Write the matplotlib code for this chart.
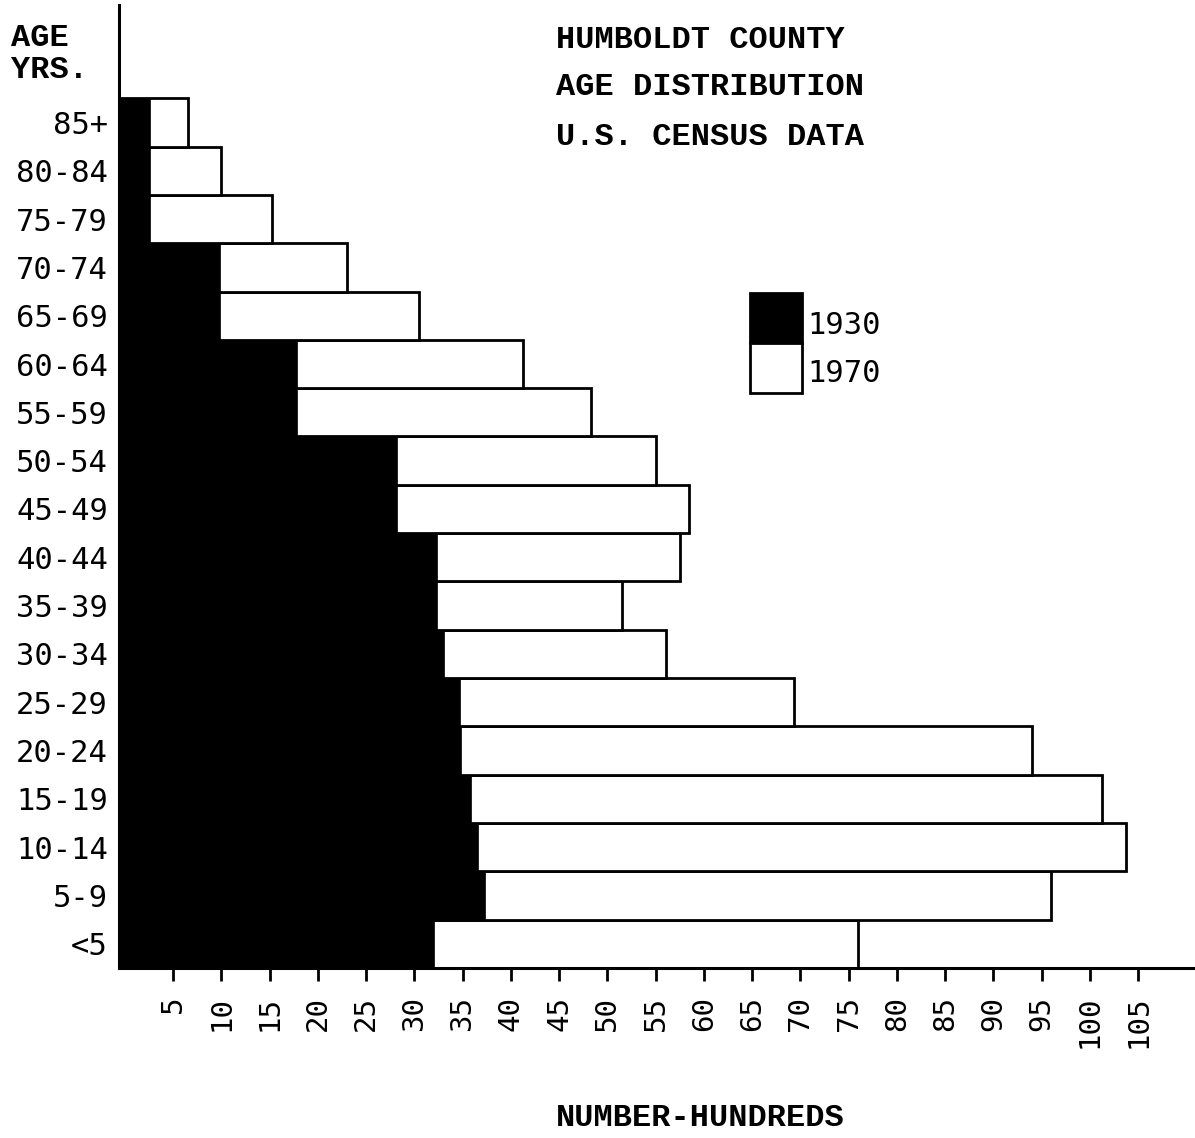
import matplotlib
matplotlib.use("Agg")
import matplotlib.pyplot as plt
from matplotlib.patches import Rectangle

# Humboldt County population by age group, in hundreds of persons
age_groups = ["<5", "5-9", "10-14", "15-19", "20-24", "25-29", "30-34", "35-39",
              "40-44", "45-49", "50-54", "55-59", "60-64", "65-69", "70-74",
              "75-79", "80-84", "85+"]
pop_1930 = [32.0, 37.3, 36.6, 35.9, 34.8, 34.7, 33.1, 32.4,
            32.4, 28.2, 28.2, 17.8, 17.8, 9.9, 9.9,
            2.6, 2.6, 2.6]
pop_1970 = [76.0, 96.0, 103.7, 101.3, 94.0, 69.3, 56.1, 51.5,
            57.5, 58.5, 55.0, 48.3, 41.3, 30.5, 23.0,
            15.3, 10.0, 6.5]
x_ticks = list(range(5, 110, 5))

TYPE_FONT = "Liberation Mono"
LETTER_FONT = "DejaVu Sans Mono"

W, H = 1195, 1138
fig = plt.figure(figsize=(W / 100, H / 100), dpi=100)
ax = fig.add_axes([119 / W, (H - 968) / H, (W - 119) / W, (968 - 5) / H])

XMIN, XMAX = -0.6, 110.9
ypos = list(range(len(age_groups)))

# 1970 bars behind, 1930 bars drawn solid on top
ax.barh(ypos, [v - XMIN for v in pop_1970], left=XMIN, height=1.0,
        color="white", edgecolor="black", linewidth=2.0, zorder=2)
ax.barh(ypos, [v - XMIN for v in pop_1930], left=XMIN, height=1.0,
        color="black", edgecolor="black", linewidth=0.5, zorder=3)

ax.set_xlim(XMIN, XMAX)
ax.set_ylim(-0.5, 19.43)

for s in ("top", "right"):
    ax.spines[s].set_visible(False)
for s in ("left", "bottom"):
    ax.spines[s].set_linewidth(2.2)
    ax.spines[s].set_zorder(4)

ax.set_yticks(ypos)
ax.set_yticklabels(age_groups, fontfamily=LETTER_FONT, fontsize=22)
ax.tick_params(axis="y", length=0, pad=8)

ax.set_xticks(x_ticks)
ax.set_xticklabels([str(t) for t in x_ticks], rotation=90,
                   fontfamily=LETTER_FONT, fontsize=21, va="top", ha="center")
ax.tick_params(axis="x", length=9, width=2, direction="out", pad=11)

fig.text(700 / W, 1 - 1118 / H, "NUMBER-HUNDREDS", fontfamily=TYPE_FONT,
         fontweight="bold", fontsize=23, va="center", ha="center")

# Titles
for text, yc in [("HUMBOLDT COUNTY", 40), ("AGE DISTRIBUTION", 87),
                 ("U.S. CENSUS DATA", 137)]:
    fig.text(556 / W, 1 - yc / H, text, fontfamily=TYPE_FONT,
             fontweight="bold", fontsize=23, va="center", ha="left")

fig.text(11 / W, 1 - 38 / H, "AGE", fontfamily=TYPE_FONT, fontweight="bold",
         fontsize=23, va="center", ha="left")
fig.text(11 / W, 1 - 70 / H, "YRS.", fontfamily=TYPE_FONT, fontweight="bold",
         fontsize=23, va="center", ha="left")

# Legend key: stacked black and white squares
fig.patches.append(Rectangle((750 / W, 1 - 343 / H), 52 / W, 50 / H,
                             transform=fig.transFigure, facecolor="black",
                             edgecolor="black", linewidth=2))
fig.patches.append(Rectangle((750 / W, 1 - 393 / H), 52 / W, 50 / H,
                             transform=fig.transFigure, facecolor="white",
                             edgecolor="black", linewidth=2))
fig.text(807 / W, 1 - 326 / H, "1930", fontfamily=LETTER_FONT, fontsize=22,
         va="center", ha="left")
fig.text(807 / W, 1 - 374 / H, "1970", fontfamily=LETTER_FONT, fontsize=22,
         va="center", ha="left")

fig.savefig("out.png", dpi=100)
